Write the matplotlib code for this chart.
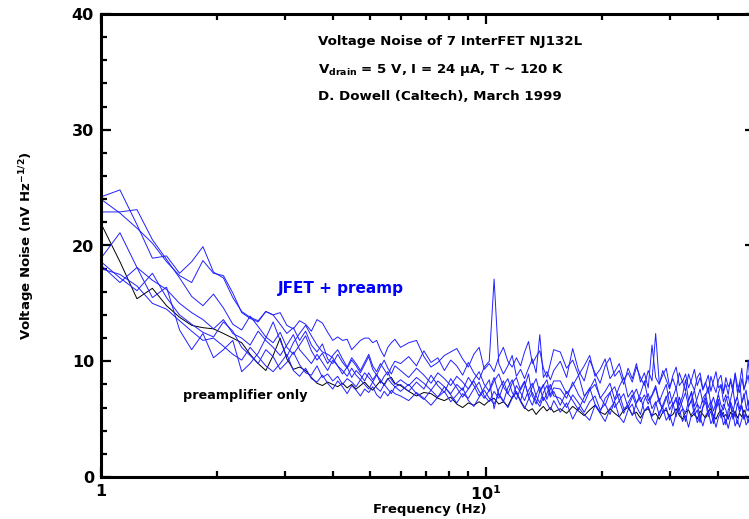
import matplotlib
matplotlib.use("Agg")
import matplotlib.pyplot as plt
from matplotlib.ticker import FixedLocator, FixedFormatter, MultipleLocator
import numpy as np

# frequency bins (Hz): fine at low f, coarser above
freq_lo = [1.00, 1.12, 1.24, 1.36, 1.48, 1.60, 1.72, 1.84, 1.96, 2.08, 2.20, 2.32, 2.44, 2.56,
           2.68, 2.80, 2.92, 3.04, 3.16, 3.28, 3.40, 3.52, 3.64, 3.76, 3.88, 4.00, 4.12, 4.24,
           4.36, 4.48, 4.60, 4.72, 4.84, 4.96, 5.08, 5.20, 5.32, 5.44, 5.56, 5.68, 5.80]
freq_mid = [6.0, 6.3, 6.6, 6.9, 7.2, 7.5, 7.8, 8.1, 8.4, 8.7, 9.0, 9.3, 9.6, 9.9, 10.2, 10.5,
            10.8, 11.1, 11.4, 11.7, 12.0, 12.3, 12.6, 12.9, 13.2, 13.5, 13.8, 14.1, 14.4, 14.7, 15.0]
freq_hi = [15.6, 16.2, 16.8, 17.4, 18.0, 18.6, 19.2, 19.8, 20.4, 21.0, 21.6, 22.2, 22.8, 23.4,
           24.0, 24.6, 25.2, 25.8, 26.4, 27.0, 27.6, 28.2, 28.8, 29.4, 30.0, 30.6, 31.2, 31.8,
           32.4, 33.0, 33.6, 34.2, 34.8, 35.4, 36.0, 36.6, 37.2, 37.8, 38.4, 39.0, 39.6, 40.2,
           40.8, 41.4, 42.0, 42.6, 43.2, 43.8, 44.4, 45.0, 45.6, 46.2, 46.8, 47.4, 48.0, 48.6]

# preamplifier alone (nV/rtHz)
preamp = [21.9, 18.6, 15.4, 16.3, 14.8, 13.8, 13.1, 12.9, 12.8, 12.4, 12.0, 11.6, 10.6, 9.8, 9.2,
          10.5, 12.0, 10.2, 9.3, 9.5, 9.2, 8.6, 8.1, 7.9, 8.2, 8.0, 7.8, 8.1, 7.7, 8.0, 7.6, 7.9,
          8.2, 7.8, 7.5, 7.9, 8.3, 8.0, 8.5, 8.6, 8.1,
          7.9, 7.4, 7.0, 7.3, 7.2, 6.8, 6.6, 6.9, 6.3, 6.0, 6.4, 6.2, 6.5, 6.2, 6.6, 6.8, 6.3, 6.5,
          6.1, 6.9, 7.3, 6.6, 6.0, 5.7, 5.9, 5.4, 5.8, 6.1, 5.7, 6.0, 5.6,
          5.9, 5.5, 6.1, 5.7, 5.3, 5.8, 6.2, 5.6, 5.4, 5.9, 5.5, 5.2, 5.8, 6.0, 5.4, 5.6, 5.1, 5.7,
          5.9, 5.3, 5.5, 5.0, 5.6, 5.8, 5.2, 5.4, 5.9, 5.3, 5.0, 5.6, 5.8, 5.2, 5.5, 5.0, 5.7, 5.4,
          5.1, 5.6, 5.9, 5.3, 5.0, 5.5, 5.8, 5.2, 5.4, 5.0, 5.6, 5.3, 5.7, 5.1, 5.5, 5.2, 5.8, 5.4,
          5.1, 5.6]

# JFET + preamp, 7 devices
jfet1 = [24.2, 24.8, 21.8, 18.9, 19.1, 17.6, 18.6, 19.9, 17.7, 17.2, 15.5, 14.3, 13.8, 13.5, 14.3,
         14.0, 13.2, 12.4, 12.9, 11.8, 12.6, 11.4, 10.8, 11.5, 10.2, 9.8, 10.6, 9.9, 9.4, 10.1,
         9.6, 9.0, 9.7, 10.4, 9.3, 8.8, 9.5, 10.1, 9.4, 8.9, 9.6,
         9.2, 8.6, 9.4, 8.8, 8.1, 9.0, 8.5, 7.9, 8.7, 8.2, 7.6, 8.4, 9.1, 8.0, 7.4, 8.3, 8.9, 7.8,
         7.2, 8.1, 8.6, 7.5, 8.2, 7.0, 7.8, 8.5, 7.3, 7.9, 8.4, 7.1, 7.7,
         7.6, 6.8, 8.2, 7.1, 6.4, 7.5, 8.0, 6.9, 6.2, 7.3, 7.8, 6.6, 7.2, 6.0, 6.9, 7.6, 6.5, 7.1,
         6.3, 7.0, 7.7, 6.4, 6.0, 6.8, 7.4, 6.2, 6.9, 5.8, 6.6, 7.3, 6.1, 6.7, 7.5, 6.3, 5.9, 6.8,
         7.2, 6.0, 6.6, 5.7, 6.4, 7.1, 6.2, 5.8, 6.7, 7.0, 6.1, 5.6, 6.5, 6.9, 5.9, 6.4, 7.2, 6.0,
         5.7, 6.6]
jfet2 = [22.9, 22.9, 23.1, 20.5, 18.8, 17.2, 15.6, 14.8, 15.8, 14.6, 13.2, 12.7, 13.9, 13.0, 12.1,
         11.6, 12.5, 11.2, 10.6, 11.4, 12.2, 10.9, 10.1, 10.7, 9.8, 10.5, 11.0, 10.2, 9.5, 10.3,
         9.8, 9.2, 9.9, 10.6, 9.6, 9.1, 9.8, 9.3, 8.8, 9.5, 10.0,
         9.8, 10.4, 9.6, 10.9, 9.9, 10.3, 9.2, 10.1, 9.6, 8.8, 9.9, 9.0, 8.4, 9.5, 10.0, 17.1, 9.8,
         8.9, 9.6, 10.5, 8.7, 9.3, 8.5, 9.4, 10.2, 9.0, 12.3, 8.6, 9.1, 8.4, 9.2,
         10.0, 8.6, 11.1, 9.2, 8.3, 10.1, 9.0, 8.1, 9.6, 10.3, 8.7, 9.2, 8.0, 9.4, 8.5, 9.8, 8.2,
         9.0, 7.7, 11.4, 8.6, 8.0, 9.2, 8.4, 7.6, 8.8, 9.5, 7.9, 8.3, 7.4, 8.9, 8.1, 7.5, 8.6, 9.0,
         7.6, 8.2, 7.2, 8.7, 7.9, 7.3, 8.4, 8.8, 7.4, 8.0, 7.1, 8.5, 7.7, 8.9, 7.3, 8.1, 9.4, 7.5,
         8.3, 10.1, 8.0]
jfet3 = [24.0, 22.8, 21.5, 20.2, 18.6, 17.4, 16.8, 18.7, 17.6, 17.4, 15.9, 14.2, 13.7, 13.4, 14.3,
         14.0, 14.2, 13.1, 12.8, 13.5, 13.2, 12.6, 13.6, 13.3, 12.5, 11.8, 12.1, 11.8, 11.9, 11.0,
         11.4, 11.8, 12.0, 12.0, 11.6, 11.8, 11.0, 10.4, 11.2, 11.6, 11.9,
         11.2, 11.6, 11.8, 10.4, 9.5, 9.9, 10.5, 10.8, 11.1, 10.2, 9.5, 10.6, 11.2, 9.3, 9.8, 9.1,
         10.4, 11.2, 10.0, 9.5, 10.3, 9.6, 10.8, 11.7, 9.8, 10.4, 10.9, 9.4, 8.6, 9.8, 11.0,
         10.8, 9.4, 10.1, 8.8, 9.6, 10.5, 8.7, 9.3, 10.2, 8.5, 9.1, 9.8, 8.4, 9.0, 8.2, 9.5, 8.6,
         7.9, 9.2, 8.3, 12.4, 8.1, 8.8, 9.4, 7.8, 8.5, 7.6, 9.0, 8.2, 8.9, 7.7, 8.4, 9.3, 7.9, 8.6,
         7.5, 8.1, 8.8, 7.4, 8.3, 9.1, 7.7, 8.0, 7.2, 8.6, 7.8, 8.2, 7.4, 9.0, 7.9, 7.3, 8.5, 7.6,
         8.1, 8.8, 7.5]
jfet4 = [18.9, 21.1, 18.1, 17.0, 16.2, 15.0, 14.2, 13.6, 12.8, 13.6, 12.4, 12.0, 11.4, 12.6, 11.8,
         11.2, 10.5, 11.4, 12.3, 11.0, 10.4, 9.8, 10.6, 9.9, 9.2, 10.1, 9.6, 8.9, 9.5, 8.6, 9.2,
         8.8, 8.3, 9.0, 8.4, 8.9, 8.1, 8.7, 9.1, 8.4, 8.0,
         8.4, 7.9, 8.6, 8.1, 7.5, 8.3, 7.8, 7.2, 8.0, 7.5, 8.6, 7.9, 7.0, 7.7, 8.4, 5.9, 7.6, 8.3,
         7.2, 6.8, 7.9, 7.3, 6.6, 7.5, 8.1, 7.0, 6.4, 7.3, 7.9, 6.9, 7.4,
         6.2, 7.4, 6.6, 5.8, 6.9, 7.7, 6.3, 5.6, 6.8, 7.3, 6.0, 6.6, 5.5, 6.4, 7.1, 6.1, 5.4, 6.7,
         7.2, 5.9, 6.5, 5.3, 6.2, 7.0, 5.8, 6.4, 5.2, 6.9, 6.0, 5.5, 6.6, 7.3, 5.7, 6.3, 5.1, 6.1,
         6.8, 5.6, 6.2, 5.0, 6.0, 6.7, 5.4, 6.3, 5.8, 5.0, 6.5, 5.9, 5.2, 6.4, 5.6, 6.1, 5.0, 5.8,
         6.6, 5.4]
jfet5 = [18.3, 16.8, 18.1, 15.5, 16.4, 12.7, 11.0, 12.4, 10.3, 11.0, 11.8, 9.1, 9.8, 10.7, 12.0,
         13.4, 11.8, 10.4, 11.6, 12.4, 13.1, 12.2, 11.4, 10.8, 10.6, 10.3, 9.6, 9.2, 8.7, 9.4, 8.8,
         8.4, 9.0, 8.6, 8.2, 8.8, 8.4, 7.9, 8.5, 8.1, 7.8,
         8.0, 7.4, 8.2, 7.6, 8.8, 7.9, 7.3, 8.5, 7.7, 6.9, 7.6, 8.3, 7.4, 6.8, 7.5, 8.6, 7.1, 6.5,
         7.7, 8.4, 7.2, 6.6, 7.8, 8.9, 7.0, 6.3, 7.4, 8.0, 6.7, 7.6, 8.3,
         8.3, 7.2, 7.9, 8.8, 7.0, 7.6, 8.5, 6.8, 7.4, 8.1, 6.7, 7.8, 8.6, 6.9, 7.5, 6.4, 7.2, 8.3,
         6.6, 7.1, 7.9, 6.5, 7.3, 8.0, 6.3, 6.9, 7.7, 6.2, 7.0, 8.4, 6.6, 7.4, 6.1, 6.8, 7.6, 6.4,
         7.0, 7.8, 6.2, 6.9, 6.0, 7.3, 7.9, 6.5, 7.1, 6.1, 6.7, 7.6, 6.3, 7.0, 8.2, 6.4, 6.9, 7.5,
         6.2, 7.1]
jfet6 = [18.6, 17.2, 16.1, 17.6, 15.5, 14.0, 13.2, 12.5, 12.1, 13.4, 12.6, 11.2, 10.5, 9.8, 11.0,
         10.4, 9.3, 9.9, 10.8, 9.7, 9.0, 8.8, 9.6, 8.6, 8.9, 8.3, 8.7, 8.0, 8.5, 8.2, 7.8, 8.4,
         8.0, 7.6, 8.2, 7.7, 7.4, 8.0, 7.6, 7.2, 7.8,
         7.4, 8.0, 7.2, 6.7, 7.5, 6.9, 7.8, 7.1, 6.4, 7.2, 6.8, 7.6, 8.2, 7.0, 6.5, 7.4, 6.8, 7.9,
         8.5, 7.3, 6.7, 7.7, 8.3, 6.9, 6.2, 7.1, 7.8, 6.6, 7.2, 8.0, 7.0,
         6.8, 6.0, 7.1, 6.4, 5.6, 6.5, 7.0, 5.8, 6.3, 5.4, 6.6, 7.2, 5.9, 6.2, 5.3, 6.4, 6.9, 5.7,
         6.1, 5.2, 6.3, 6.8, 5.5, 6.0, 4.9, 6.2, 6.7, 5.4, 5.9, 4.8, 6.1, 6.6, 5.3, 5.8, 4.7, 6.0,
         6.5, 5.2, 5.7, 4.6, 5.9, 6.4, 5.1, 5.6, 4.5, 5.8, 6.3, 5.0, 5.5, 4.6, 5.7, 6.2, 5.0, 5.4,
         4.7, 5.6]
jfet7 = [18.0, 17.5, 16.5, 15.0, 14.5, 13.5, 12.6, 11.8, 12.0, 11.3, 10.6, 10.1, 11.2, 10.4, 9.6,
         9.1, 9.8, 10.6, 9.2, 8.7, 9.4, 8.5, 8.2, 8.8, 8.1, 7.6, 8.3, 7.8, 7.2, 7.9, 7.5, 7.0, 7.6,
         7.3, 7.8, 7.1, 6.8, 7.4, 7.0, 7.5, 7.2,
         7.0, 6.6, 7.3, 6.8, 6.2, 6.9, 7.4, 6.5, 7.1, 7.7, 6.6, 6.1, 6.9, 7.5, 6.8, 6.3, 7.2, 6.6,
         6.0, 6.8, 7.4, 6.5, 5.9, 6.7, 7.3, 6.6, 6.1, 6.9, 6.4, 5.8, 6.6,
         5.6, 6.4, 5.0, 6.0, 5.4, 4.9, 6.2, 5.5, 4.8, 5.9, 6.5, 5.2, 4.7, 5.8, 6.3, 5.1, 4.6, 5.7,
         6.1, 5.0, 4.5, 5.6, 6.0, 4.9, 5.4, 4.4, 5.5, 5.9, 4.8, 5.3, 4.3, 5.4, 5.8, 4.7, 5.2, 4.4,
         5.3, 5.7, 4.6, 5.1, 4.3, 5.2, 5.6, 4.5, 5.0, 4.2, 5.1, 5.5, 4.4, 4.9, 4.3, 5.0, 5.4, 4.5,
         4.8, 5.2]

freq = np.array(freq_lo + freq_mid + freq_hi)
jfets = [jfet1, jfet2, jfet3, jfet4, jfet5, jfet6, jfet7]

W, H = 749, 519
fig = plt.figure(figsize=(W / 100, H / 100), dpi=100)
# axes: x=1 at px 101, y from 14 to 477; right edge runs a bit past the image
ax = fig.add_axes([101 / W, (H - 477) / H, (755 - 101) / W, 463 / H])

ax.plot(freq, preamp, color='black', lw=0.7)
for j in jfets:
    ax.plot(freq, j, color='#2020ff', lw=0.7)

ax.set_xscale('log')
ax.set_xlim(1, 50)
ax.set_ylim(0, 40)

ax.xaxis.set_major_locator(FixedLocator([1, 10]))
ax.xaxis.set_major_formatter(FixedFormatter(['1', r'$\mathbf{10^1}$']))
ax.xaxis.set_minor_locator(FixedLocator([2, 3, 4, 5, 6, 7, 8, 9, 20, 30, 40, 50]))
ax.xaxis.set_minor_formatter(FixedFormatter([''] * 12))
ax.yaxis.set_major_locator(MultipleLocator(10))
ax.yaxis.set_minor_locator(MultipleLocator(2))

for s in ax.spines.values():
    s.set_linewidth(2.2)
ax.tick_params(which='both', direction='in', top=True, right=True, width=1.6)
ax.tick_params(which='major', length=7)
ax.tick_params(which='minor', length=4.5)
ax.tick_params(axis='both', labelsize=11.5, pad=5)
for lab in ax.get_xticklabels() + ax.get_yticklabels():
    lab.set_fontweight('bold')

ax.set_xlabel('Frequency (Hz)', fontsize=9.5, fontweight='bold')
ax.xaxis.set_label_coords((430 - 101) / 654, -0.056)
ax.set_ylabel(r'Voltage Noise (nV Hz$^{\mathbf{-1/2}}$)', fontsize=9.5, fontweight='bold')
ax.yaxis.set_label_coords(-0.098, 0.5)

tkw = dict(transform=ax.transAxes, ha='left', va='center', fontsize=9.6, fontweight='bold')
ax.text(0.332, 0.940, 'Voltage Noise of 7 InterFET NJ132L', **tkw)
ax.text(0.332, 0.879, r'V$_{\mathbf{drain}}$ = 5 V, I = 24 μA, T ~ 120 K', **tkw)
ax.text(0.332, 0.821, 'D. Dowell (Caltech), March 1999', **tkw)

ax.text(0.271, 0.408, 'JFET + preamp', transform=ax.transAxes, ha='left', va='center',
        fontsize=11, fontweight='bold', color='#0000ff')
ax.text(0.125, 0.175, 'preamplifier only', transform=ax.transAxes, ha='left', va='center',
        fontsize=9.2, fontweight='bold', color='black')

fig.savefig('out.png', dpi=100)
